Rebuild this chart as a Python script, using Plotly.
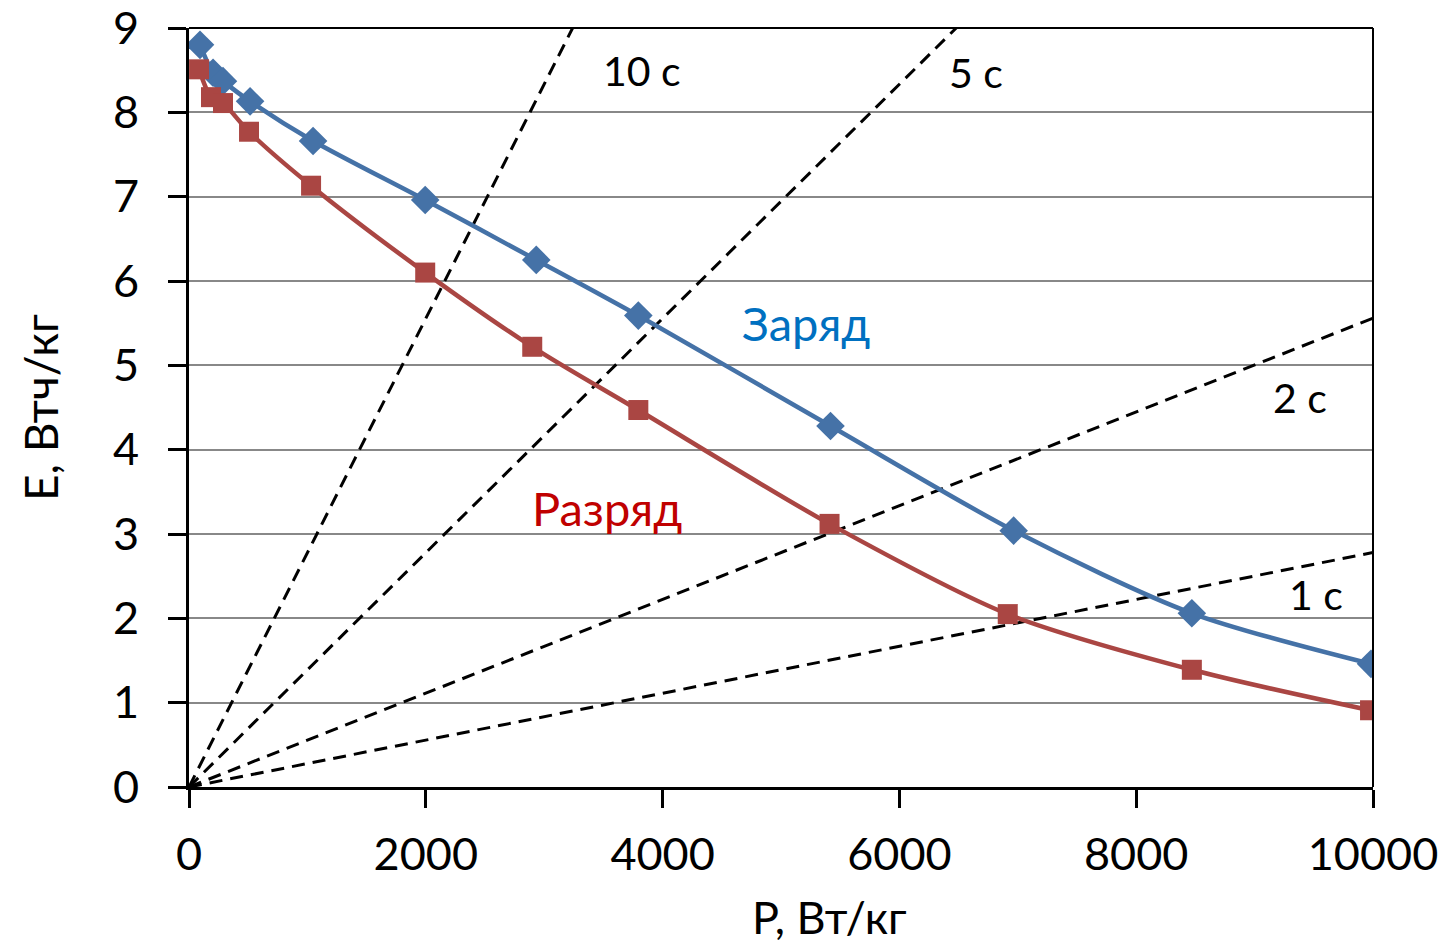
import plotly.graph_objects as go

# Charge (Заряд) series
charge_P = [93, 203, 287, 516, 1048, 1995, 2933, 3795, 5418, 6965, 8470, 9983]
charge_E = [8.80, 8.47, 8.37, 8.13, 7.66, 6.96, 6.25, 5.59, 4.28, 3.04, 2.06, 1.46]

# Discharge (Разряд) series
discharge_P = [85, 186, 287, 507, 1031, 1995, 2899, 3795, 5410, 6915, 8470, 9975]
discharge_E = [8.51, 8.18, 8.11, 7.77, 7.13, 6.10, 5.22, 4.47, 3.12, 2.05, 1.39, 0.91]

# Constant-time reference lines (from origin to end point)
ref_labels = ["10 с", "5 с", "2 с", "1 с"]
ref_P_end = [3240, 6480, 10000, 10000]
ref_E_end = [9.0, 9.0, 5.56, 2.78]
ref_label_P = [3830, 6650, 9383, 9518]
ref_label_E = [8.50, 8.47, 4.62, 2.28]

x_ticks = [0, 2000, 4000, 6000, 8000, 10000]
y_ticks = [0, 1, 2, 3, 4, 5, 6, 7, 8, 9]

FONT = "Lato"

fig = go.Figure()

for pe, ee in zip(ref_P_end, ref_E_end):
    fig.add_trace(go.Scatter(
        x=[0, pe], y=[0, ee], mode="lines",
        line=dict(color="black", width=3, dash="13px,8px"),
        showlegend=False, hoverinfo="skip"))

fig.add_trace(go.Scatter(
    x=charge_P, y=charge_E, mode="lines+markers", name="Заряд",
    line=dict(color="#4572A7", width=4.5, shape="spline", smoothing=0.8),
    marker=dict(symbol="diamond", size=22, color="#4572A7"),
    showlegend=False))

fig.add_trace(go.Scatter(
    x=discharge_P, y=discharge_E, mode="lines+markers", name="Разряд",
    line=dict(color="#AA4643", width=4.5, shape="spline", smoothing=0.8),
    marker=dict(symbol="square", size=20, color="#AA4643"),
    showlegend=False))

annotations = []
for lab, px, ey in zip(ref_labels, ref_label_P, ref_label_E):
    annotations.append(dict(x=px, y=ey, text=lab, showarrow=False,
                            font=dict(family=FONT, size=41, color="black")))
annotations.append(dict(x=5207, y=5.50, text="Заряд", showarrow=False,
                        font=dict(family=FONT, size=47, color="#0070C0")))
annotations.append(dict(x=3533, y=3.31, text="Разряд", showarrow=False,
                        font=dict(family=FONT, size=47, color="#C00000")))
# x-axis title
annotations.append(dict(xref="paper", yref="paper", x=0.541, y=-0.171,
                        xanchor="center", yanchor="middle", text="P, Вт/кг",
                        showarrow=False, font=dict(family=FONT, size=45, color="black")))

fig.update_layout(
    width=1453, height=944,
    margin=dict(l=189, r=80, t=28, b=157),
    paper_bgcolor="white", plot_bgcolor="white",
    font=dict(family=FONT, color="black"),
    annotations=annotations,
    xaxis=dict(
        range=[0, 10000], tickvals=x_ticks, ticktext=[str(v) for v in x_ticks],
        showgrid=False, zeroline=False, automargin=False,
        showline=True, linecolor="black", linewidth=3,
        ticks="outside", ticklen=18, tickwidth=3, tickcolor="black",
        ticklabelstandoff=8, ticklabeloverflow="allow",
        tickfont=dict(family=FONT, size=45, color="black"),
    ),
    yaxis=dict(
        range=[0, 9], tickvals=y_ticks, ticktext=[str(v) for v in y_ticks],
        showgrid=True, gridcolor="#888888", gridwidth=1.5, zeroline=False, automargin=False,
        showline=True, linecolor="black", linewidth=3,
        ticks="outside", ticklen=18, tickwidth=3, tickcolor="black",
        ticklabelstandoff=20, ticklabeloverflow="allow",
        tickfont=dict(family=FONT, size=45, color="black"),
        title=dict(text="E, Втч/кг", font=dict(family=FONT, size=46, color="black"), standoff=40),
    ),
    shapes=[
        dict(type="line", xref="paper", yref="paper", x0=0, x1=1, y0=1, y1=1,
             line=dict(color="black", width=2)),
        dict(type="line", xref="paper", yref="paper", x0=1, x1=1, y0=0, y1=1,
             line=dict(color="black", width=2)),
    ],
)

fig.write_html("out.html")
